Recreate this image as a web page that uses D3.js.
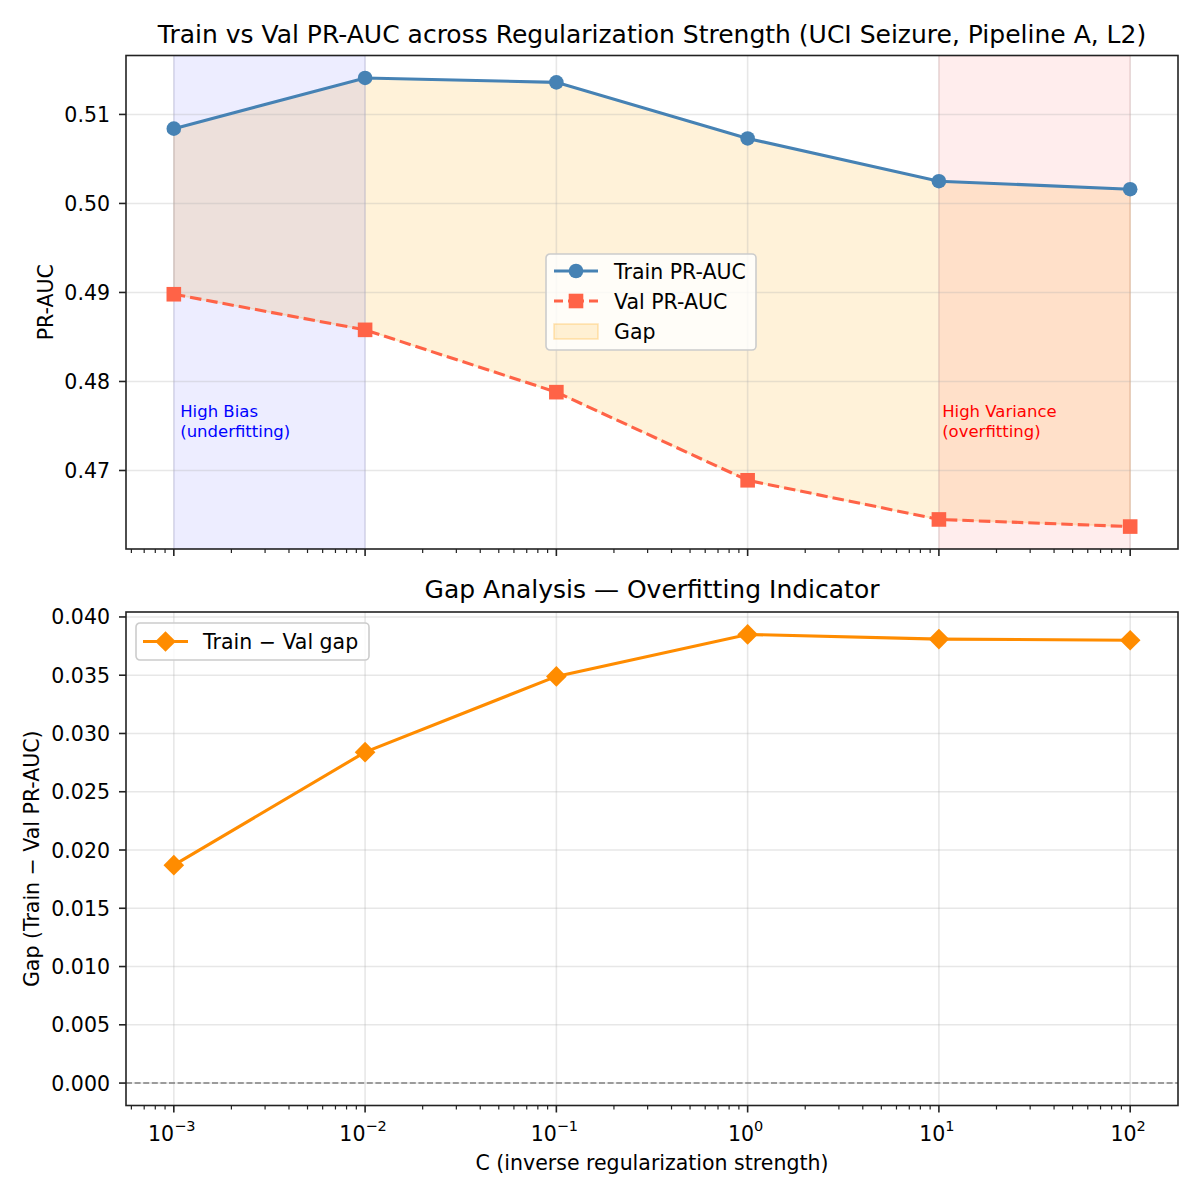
<!DOCTYPE html>
<html>
<head>
<meta charset="utf-8">
<script src="https://cdn.jsdelivr.net/npm/d3@7"></script>
<style>
  body { margin: 0; background: #fff; }
  text { font-family: "DejaVu Sans", sans-serif; fill: #000; }
</style>
</head>
<body>
<div id="chart"></div>
<script>
// data
const cValues = [0.001, 0.01, 0.1, 1, 10, 100];
const trainPR = [0.5084, 0.5141, 0.5136, 0.5073, 0.5025, 0.5016];
const valPR = [0.4898, 0.4858, 0.4788, 0.4689, 0.4645, 0.4637];
const gapValues = [0.0187, 0.0284, 0.0349, 0.0385, 0.0381, 0.0380];
const topYTicks = [0.47, 0.48, 0.49, 0.50, 0.51];
const bottomYTicks = [0.000, 0.005, 0.010, 0.015, 0.020, 0.025, 0.030, 0.035, 0.040];
const xTickExps = [-3, -2, -1, 0, 1, 2];

const W = 1200, H = 1200;
const left = 126, right = 1178;
const topBox = {y0: 55.5, y1: 549};
const botBox = {y0: 612, y1: 1105.5};

const svg = d3.select('#chart').append('svg')
  .attr('width', W).attr('height', H);

// x: log scale, 5% margin in log space like matplotlib
const lx = [Math.log10(d3.min(cValues)), Math.log10(d3.max(cValues))];
const lpad = (lx[1] - lx[0]) * 0.05;
const x = d3.scaleLog()
  .domain([Math.pow(10, lx[0] - lpad), Math.pow(10, lx[1] + lpad)])
  .range([left, right]);

function padded(lo, hi) {
  const p = (hi - lo) * 0.05;
  return [lo - p, hi + p];
}

const yTop = d3.scaleLinear()
  .domain(padded(d3.min(valPR), d3.max(trainPR)))
  .range([topBox.y1, topBox.y0]);
const yBot = d3.scaleLinear()
  .domain(padded(0, d3.max(gapValues)))
  .range([botBox.y1, botBox.y0]);

const minorTicks = [];
const [dlo, dhi] = x.domain();
for (let e = -4; e <= 2; e++) {
  for (let m = 2; m <= 9; m++) {
    const v = m * Math.pow(10, e);
    if (v >= dlo && v <= dhi) minorTicks.push(v);
  }
}

function clipFor(id, box) {
  svg.append('defs').append('clipPath').attr('id', id)
    .append('rect').attr('x', left).attr('y', box.y0)
    .attr('width', right - left).attr('height', box.y1 - box.y0);
}
clipFor('clipTop', topBox);
clipFor('clipBot', botBox);

function grid(g, y, yticks, box) {
  g.selectAll('.gx').data(xTickExps).join('line')
    .attr('x1', d => x(Math.pow(10, d))).attr('x2', d => x(Math.pow(10, d)))
    .attr('y1', box.y0).attr('y2', box.y1)
    .attr('stroke', '#b0b0b0').attr('stroke-opacity', 0.3).attr('stroke-width', 1.6);
  g.selectAll('.gy').data(yticks).join('line')
    .attr('x1', left).attr('x2', right)
    .attr('y1', d => y(d)).attr('y2', d => y(d))
    .attr('stroke', '#b0b0b0').attr('stroke-opacity', 0.3).attr('stroke-width', 1.6);
}

function frame(y, yticks, box, fmt, showXLabels) {
  const g = svg.append('g');
  g.append('rect').attr('x', left).attr('y', box.y0)
    .attr('width', right - left).attr('height', box.y1 - box.y0)
    .attr('fill', 'none').attr('stroke', '#222').attr('stroke-width', 1.6);
  // y ticks
  g.selectAll('.yt').data(yticks).join('line')
    .attr('x1', left - 7).attr('x2', left)
    .attr('y1', d => y(d)).attr('y2', d => y(d))
    .attr('stroke', '#222').attr('stroke-width', 1.6);
  g.selectAll('.yl').data(yticks).join('text')
    .attr('x', left - 16).attr('y', d => y(d) + 7.5)
    .attr('text-anchor', 'end').style('font-size', '20.5px')
    .text(d => d3.format(fmt)(d));
  // x major / minor ticks
  g.selectAll('.xt').data(xTickExps).join('line')
    .attr('x1', d => x(Math.pow(10, d))).attr('x2', d => x(Math.pow(10, d)))
    .attr('y1', box.y1).attr('y2', box.y1 + 7)
    .attr('stroke', '#222').attr('stroke-width', 1.6);
  g.selectAll('.xm').data(minorTicks).join('line')
    .attr('x1', d => x(d)).attr('x2', d => x(d))
    .attr('y1', box.y1).attr('y2', box.y1 + 4)
    .attr('stroke', '#222').attr('stroke-width', 1.2);
  if (showXLabels) {
    const t = g.selectAll('.xl').data(xTickExps).join('text')
      .attr('x', d => x(Math.pow(10, d)) - 2).attr('y', box.y1 + 35)
      .attr('text-anchor', 'middle').style('font-size', '20.5px');
    t.append('tspan').text('10');
    t.append('tspan').attr('dy', -10).style('font-size', '14.5px')
      .text(d => String(d).replace('-', '\u2212'));
  }
}

// ---------- top panel ----------
const gTop = svg.append('g').attr('clip-path', 'url(#clipTop)');

const pts = cValues.map((c, i) => ({c, train: trainPR[i], val: valPR[i], gap: gapValues[i]}));

gTop.append('path')
  .datum(pts)
  .attr('fill', '#ffa500').attr('fill-opacity', 0.15)
  .attr('stroke', '#ffa500').attr('stroke-opacity', 0.15).attr('stroke-width', 1.6)
  .attr('d', d3.area()
    .x(d => x(d.c))
    .y0(d => yTop(d.val))
    .y1(d => yTop(d.train)));

// bias / variance regions
gTop.append('rect')
  .attr('x', x(cValues[0])).attr('width', x(cValues[1]) - x(cValues[0]))
  .attr('y', topBox.y0).attr('height', topBox.y1 - topBox.y0)
  .attr('fill', 'blue').attr('fill-opacity', 0.07)
  .attr('stroke', 'blue').attr('stroke-opacity', 0.07).attr('stroke-width', 1.6);
gTop.append('rect')
  .attr('x', x(cValues[4])).attr('width', x(cValues[5]) - x(cValues[4]))
  .attr('y', topBox.y0).attr('height', topBox.y1 - topBox.y0)
  .attr('fill', 'red').attr('fill-opacity', 0.07)
  .attr('stroke', 'red').attr('stroke-opacity', 0.07).attr('stroke-width', 1.6);

grid(gTop, yTop, topYTicks, topBox);

gTop.append('path')
  .datum(pts)
  .attr('fill', 'none').attr('stroke', 'steelblue').attr('stroke-width', 3.1)
  .attr('d', d3.line().x(d => x(d.c)).y(d => yTop(d.train)));
gTop.selectAll('.tp').data(pts).join('circle')
  .attr('cx', d => x(d.c)).attr('cy', d => yTop(d.train)).attr('r', 7.3)
  .attr('fill', 'steelblue');

gTop.append('path')
  .datum(pts)
  .attr('fill', 'none').attr('stroke', 'tomato').attr('stroke-width', 3.1)
  .attr('stroke-dasharray', '11.5,5')
  .attr('d', d3.line().x(d => x(d.c)).y(d => yTop(d.val)));
gTop.selectAll('.vp').data(pts).join('rect')
  .attr('x', d => x(d.c) - 7.3).attr('y', d => yTop(d.val) - 7.3)
  .attr('width', 14.6).attr('height', 14.6)
  .attr('fill', 'tomato');

// annotations
const biasTxt = svg.append('text').attr('x', x(0.00108)).attr('y', 417)
  .style('font-size', '16.5px').style('fill', 'blue');
biasTxt.append('tspan').text('High Bias');
biasTxt.append('tspan').attr('x', x(0.00108)).attr('dy', 19.5).text('(underfitting)');
const varTxt = svg.append('text').attr('x', x(10.4)).attr('y', 417)
  .style('font-size', '16.5px').style('fill', 'red');
varTxt.append('tspan').text('High Variance');
varTxt.append('tspan').attr('x', x(10.4)).attr('dy', 19.5).text('(overfitting)');

frame(yTop, topYTicks, topBox, '.2f', false);

svg.append('text').attr('x', (left + right) / 2).attr('y', 43)
  .attr('text-anchor', 'middle').style('font-size', '25px')
  .text('Train vs Val PR-AUC across Regularization Strength (UCI Seizure, Pipeline A, L2)');
svg.append('text')
  .attr('transform', `translate(53, ${(topBox.y0 + topBox.y1) / 2}) rotate(-90)`)
  .attr('text-anchor', 'middle').style('font-size', '20.5px')
  .text('PR-AUC');

// top legend
const lg = svg.append('g').attr('transform', 'translate(546, 254)');
lg.append('rect').attr('width', 210).attr('height', 96).attr('rx', 4)
  .attr('fill', 'white').attr('fill-opacity', 0.8)
  .attr('stroke', '#cccccc').attr('stroke-width', 1.6);
lg.append('line').attr('x1', 8).attr('x2', 52).attr('y1', 17).attr('y2', 17)
  .attr('stroke', 'steelblue').attr('stroke-width', 3.1);
lg.append('circle').attr('cx', 30).attr('cy', 17).attr('r', 7.3).attr('fill', 'steelblue');
lg.append('line').attr('x1', 8).attr('x2', 52).attr('y1', 47).attr('y2', 47)
  .attr('stroke', 'tomato').attr('stroke-width', 3.1).attr('stroke-dasharray', '9,5,16,5,9');
lg.append('rect').attr('x', 22.7).attr('y', 39.7).attr('width', 14.6).attr('height', 14.6)
  .attr('fill', 'tomato');
lg.append('rect').attr('x', 8).attr('y', 70).attr('width', 44).attr('height', 15)
  .attr('fill', '#ffa500').attr('fill-opacity', 0.15)
  .attr('stroke', '#ffa500').attr('stroke-opacity', 0.25).attr('stroke-width', 1.6);
[['Train PR-AUC', 17], ['Val PR-AUC', 47], ['Gap', 77]].forEach(([t, yy]) => {
  lg.append('text').attr('x', 68).attr('y', yy + 7.5).style('font-size', '20.5px').text(t);
});

// ---------- bottom panel ----------
const gBot = svg.append('g').attr('clip-path', 'url(#clipBot)');
grid(gBot, yBot, bottomYTicks, botBox);

gBot.append('line')
  .attr('x1', left).attr('x2', right).attr('y1', yBot(0)).attr('y2', yBot(0))
  .attr('stroke', 'gray').attr('stroke-width', 1.6).attr('stroke-dasharray', '6,2.6');

gBot.append('path')
  .datum(pts)
  .attr('fill', 'none').attr('stroke', 'darkorange').attr('stroke-width', 3.1)
  .attr('d', d3.line().x(d => x(d.c)).y(d => yBot(d.gap)));
const diamond = d3.symbol().type(d3.symbolSquare).size(14.6 * 14.6);
gBot.selectAll('.gp').data(pts).join('path')
  .attr('d', diamond)
  .attr('transform', d => `translate(${x(d.c)},${yBot(d.gap)}) rotate(45)`)
  .attr('fill', 'darkorange');

frame(yBot, bottomYTicks, botBox, '.3f', true);

svg.append('text').attr('x', (left + right) / 2).attr('y', 598)
  .attr('text-anchor', 'middle').style('font-size', '25px')
  .text('Gap Analysis \u2014 Overfitting Indicator');
svg.append('text')
  .attr('transform', `translate(39, ${(botBox.y0 + botBox.y1) / 2}) rotate(-90)`)
  .attr('text-anchor', 'middle').style('font-size', '20.5px')
  .text('Gap (Train \u2212 Val PR-AUC)');
svg.append('text').attr('x', (left + right) / 2).attr('y', 1170)
  .attr('text-anchor', 'middle').style('font-size', '20.5px')
  .text('C (inverse regularization strength)');

// bottom legend
const lg2 = svg.append('g').attr('transform', 'translate(136, 623)');
lg2.append('rect').attr('width', 233).attr('height', 37).attr('rx', 4)
  .attr('fill', 'white').attr('fill-opacity', 0.8)
  .attr('stroke', '#cccccc').attr('stroke-width', 1.6);
lg2.append('line').attr('x1', 7).attr('x2', 52).attr('y1', 18.5).attr('y2', 18.5)
  .attr('stroke', 'darkorange').attr('stroke-width', 3.1);
lg2.append('path').attr('d', diamond)
  .attr('transform', 'translate(29.5,18.5) rotate(45)').attr('fill', 'darkorange');
lg2.append('text').attr('x', 67).attr('y', 26).style('font-size', '20.5px')
  .text('Train \u2212 Val gap');
</script>
</body>
</html>
